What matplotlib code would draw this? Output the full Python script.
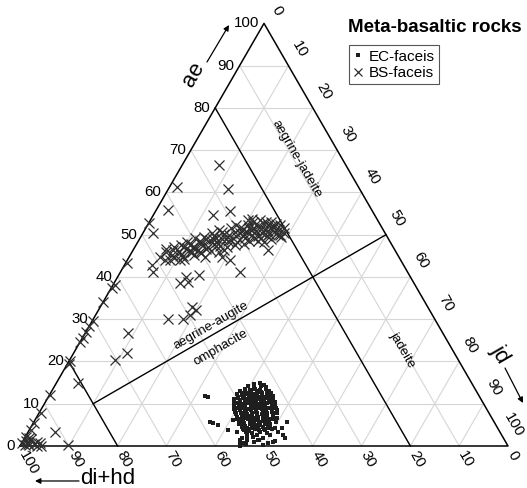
import numpy as np
import matplotlib.pyplot as plt

plt.rcParams['font.family'] = ['Liberation Sans', 'DejaVu Sans']

# (ae, jd) in percent, di+hd = 100 - ae - jd
ec_pts = [
    (14.6, 40.6), (14.9, 41.8), (14.4, 42.9),
    (14.1, 39.7), (13.8, 41.0), (14.2, 42.2), (13.9, 43.5),
    (13.5, 39.3), (13.2, 40.5), (13.6, 41.4), (13.3, 42.6), (13.5, 43.6), (13.1, 44.5),
    (12.9, 38.7), (12.6, 39.8), (12.8, 41.0), (13.0, 42.0), (12.7, 43.1), (12.9, 44.1), (12.5, 45.1),
    (12.3, 38.4), (12.0, 39.5), (12.2, 40.4), (12.4, 41.6), (12.1, 42.5), (12.3, 43.5), (12.0, 44.6), (12.2, 45.4),
    (11.7, 38.8), (11.5, 40.1), (11.8, 41.0), (11.4, 42.2), (11.6, 43.1), (11.7, 44.0), (11.5, 45.1), (11.8, 46.0),
    (11.1, 38.3), (10.9, 39.6), (11.2, 40.5), (10.8, 41.6), (11.0, 42.5), (11.1, 43.7), (10.9, 44.6), (11.2, 45.5), (10.8, 46.5),
    (10.5, 38.6), (10.2, 39.9), (10.6, 40.8), (10.3, 41.9), (10.4, 43.1), (10.6, 44.0), (10.2, 45.1), (10.5, 46.0), (10.3, 47.1),
    (9.9, 38.8), (9.6, 40.1), (10.0, 41.2), (9.7, 42.4), (9.8, 43.3), (9.9, 44.5), (9.6, 45.4), (10.0, 46.6), (9.7, 47.4),
    (9.3, 39.3), (9.0, 40.6), (9.4, 41.5), (9.1, 42.8), (9.2, 43.7), (9.4, 44.9), (9.0, 45.8), (9.3, 47.0), (9.1, 47.9),
    (8.7, 39.6), (8.4, 40.9), (8.8, 41.8), (8.5, 43.1), (8.6, 44.0), (8.8, 45.2), (8.4, 46.3), (8.7, 47.2), (8.5, 48.4),
    (8.1, 40.0), (7.8, 41.3), (8.2, 42.3), (7.9, 43.5), (8.0, 44.4), (8.2, 45.6), (7.8, 46.5), (8.1, 47.6), (7.9, 48.7),
    (7.5, 40.5), (7.2, 41.8), (7.6, 42.7), (7.3, 43.9), (7.4, 44.9), (7.6, 45.8), (7.2, 47.0), (7.5, 48.0),
    (6.9, 41.0), (6.6, 42.3), (7.0, 43.2), (6.7, 44.3), (6.8, 45.3), (7.0, 46.2), (6.6, 47.4), (6.9, 48.4), (6.7, 49.4),
    (6.3, 41.6), (6.0, 42.7), (6.4, 43.6), (6.1, 44.8), (6.2, 45.7), (6.4, 46.8), (6.0, 47.7), (6.3, 48.9),
    (5.7, 42.0), (5.4, 43.3), (5.8, 44.2), (5.5, 45.2), (5.6, 46.3), (5.8, 47.2), (5.4, 48.4), (5.7, 49.6),
    (5.1, 42.5), (4.8, 43.7), (5.2, 44.6), (4.9, 45.8), (5.0, 46.7), (5.2, 47.8), (4.8, 48.9),
    (4.5, 43.2), (4.2, 44.4), (4.6, 45.3), (4.3, 46.4), (4.4, 47.5), (4.6, 48.5), (4.2, 50.2),
    (3.9, 43.9), (3.6, 45.1), (4.0, 46.1), (3.7, 47.2), (3.8, 48.3), (4.0, 49.6),
    (3.3, 44.7), (3.0, 46.1), (3.4, 47.4), (3.1, 49.0), (3.2, 51.3),
    (12.5, 39.2), (12.6, 40.2), (12.4, 41.3), (12.5, 42.3), (12.6, 43.3), (12.4, 44.4),
    (11.3, 39.0), (11.4, 40.0), (11.2, 41.0), (11.3, 42.0), (11.4, 43.1), (11.2, 44.2), (11.3, 45.0), (11.4, 46.0),
    (10.1, 39.3), (10.0, 40.4), (10.2, 41.4), (10.1, 42.5), (10.0, 43.6), (10.2, 44.6), (10.1, 45.6), (10.0, 46.6),
    (8.9, 39.9), (9.0, 41.0), (8.8, 42.1), (8.9, 43.2), (9.0, 44.3), (8.8, 45.3), (8.9, 46.4), (9.0, 47.5),
    (7.7, 40.5), (7.8, 41.5), (7.6, 42.6), (7.7, 43.6), (7.8, 44.7), (7.6, 45.8), (7.7, 46.8), (7.8, 47.9),
    (6.5, 41.2), (6.4, 42.2), (6.6, 43.3), (6.5, 44.3), (6.4, 45.4), (6.6, 46.4), (6.5, 47.5), (6.4, 48.5),
    (5.3, 42.3), (5.2, 43.4), (5.4, 44.4), (5.3, 45.4), (5.2, 46.4), (5.4, 47.5), (5.3, 48.5),
    (4.1, 43.6), (4.0, 44.7), (4.2, 45.7), (4.1, 46.8), (4.0, 47.9), (4.2, 49.0),
    (2.6, 45.2), (2.7, 47.3), (2.5, 49.9), (2.6, 52.6), (2.0, 44.4), (2.1, 46.6), (1.9, 48.8), (2.0, 53.4),
    (1.4, 45.8), (1.5, 48.3), (1.3, 51.7), (0.8, 44.7), (0.9, 47.4), (0.7, 50.4), (0.4, 46.1), (0.3, 49.7),
    (11.8, 32.0), (11.6, 32.7), (5.7, 36.1), (5.4, 36.8), (5.0, 38.1), (3.8, 40.7), (6.1, 40.5),
    (3.3, 42.8), (1.4, 44.4), (0.7, 45.3), (1.4, 48.1), (0.9, 51.3), (5.7, 51.9), (4.3, 51.6),
    (3.3, 51.2), (1.9, 45.5), (0.1, 45.0),
]

bs_pts = [
    # along the ae - di+hd side
    (61.2, 1.6), (55.8, 2.5), (52.7, 0.0), (50.4, 2.0), (43.4, 0.3), (38.2, 0.4), (37.3, 0.2),
    (34.0, 0.1), (29.5, 0.2), (28.3, 0.0), (27.0, 0.1), (25.6, 0.2), (24.6, 0.0), (20.1, 0.1),
    (19.4, 0.3), (12.0, 0.2), (7.9, 0.4), (5.4, 0.1), (3.9, 0.3), (2.1, 0.2),
    (1.3, 0.5), (0.6, 0.2), (0.9, 1.2), (0.2, 1.8), (1.6, 1.5), (0.5, 2.6), (0.1, 3.4),
    (1.0, 2.9), (0.3, 0.8), (0.0, 4.3), (0.7, 3.8), (1.9, 0.9), (0.4, 1.4),
    # scattered
    (3.3, 5.5), (0.2, 9.8), (14.9, 4.4), (20.3, 9.3), (22.0, 11.0), (26.7, 8.8), (30.0, 15.4),
    (30.0, 18.4), (31.0, 19.3), (32.9, 18.8), (32.2, 19.9), (38.5, 13.5), (38.8, 15.0),
    (40.4, 16.5), (41.1, 6.7), (41.1, 24.6), (42.8, 5.6), (44.0, 10.8), (40.0, 14.0),
    (44.7, 19.1), (47.5, 20.3), (46.3, 27.7), (50.4, 29.0), (44.0, 21.0),
    (66.4, 7.6), (60.8, 12.2), (55.6, 15.3), (54.6, 12.2), (53.5, 20.0),
    # main band
    (44.8, 6.2), (46.0, 7.0), (43.9, 7.8), (45.3, 8.4), (47.2, 8.0), (44.5, 9.3), (46.1, 9.6),
    (47.5, 9.2), (45.2, 10.4), (46.8, 10.8), (48.3, 10.1), (44.3, 11.5), (47.0, 11.9), (49.1, 11.3),
    (45.8, 12.4), (48.0, 12.8), (46.4, 13.3), (49.5, 13.0), (47.6, 13.8), (45.6, 14.2), (48.7, 14.5),
    (50.4, 14.1), (47.0, 15.0), (49.3, 15.6), (46.2, 16.0), (48.2, 16.3), (51.2, 15.2), (44.8, 15.5),
    (50.1, 16.8), (47.4, 17.2), (49.0, 17.7), (51.5, 17.4), (45.9, 17.9), (48.4, 18.4), (50.6, 18.8),
    (47.0, 19.0), (52.3, 18.2), (49.6, 19.5), (51.3, 20.0), (48.2, 20.4), (50.2, 20.9), (52.4, 20.6),
    (49.1, 21.5), (51.0, 21.8), (53.0, 21.3), (47.7, 22.0), (50.0, 22.5), (52.0, 22.8), (49.2, 23.3),
    (51.4, 23.6), (53.1, 23.9), (50.4, 24.3), (48.4, 24.6), (52.2, 24.8), (50.9, 25.3), (49.6, 25.8),
    (51.9, 26.0), (50.6, 26.7), (48.9, 27.0), (52.3, 27.1), (50.0, 27.8), (51.5, 28.4), (49.4, 28.8),
    (46.9, 12.0), (48.6, 12.5), (47.9, 13.2), (46.5, 14.8), (49.8, 14.9), (47.8, 15.8), (45.3, 13.0),
    (48.9, 16.9), (51.7, 22.2), (50.6, 21.2), (52.7, 23.4), (49.8, 23.8), (51.2, 24.7), (53.4, 22.5),
    (50.3, 20.0), (52.0, 25.6),
    (46.3, 8.3), (45.0, 11.0), (47.8, 11.2), (46.0, 13.8), (49.0, 13.7), (47.3, 16.5), (50.6, 16.0),
    (48.8, 18.9), (46.4, 18.6), (51.6, 19.2), (49.6, 20.8), (48.6, 22.6), (51.7, 21.0), (50.9, 23.0),
    (53.6, 20.7), (49.3, 24.8), (52.6, 26.2), (50.2, 26.0), (48.3, 25.8), (51.0, 27.5), (47.0, 10.2),
    (45.9, 11.8), (48.9, 15.0), (50.0, 17.9), (52.9, 24.9), (49.9, 28.3), (44.0, 8.8), (46.7, 6.5),
]

ticks = [0, 10, 20, 30, 40, 50, 60, 70, 80, 90, 100]

H = np.sqrt(3) / 2


def tern(ae, jd):
    ae = np.asarray(ae, dtype=float) / 100.0
    jd = np.asarray(jd, dtype=float) / 100.0
    return jd + ae / 2, ae * H


fig = plt.figure(figsize=(5.27, 4.88), dpi=100)
ax = fig.add_axes([0, 0, 1, 1])
ax.set_xlim(-20 / 488, 507 / 488)
ax.set_ylim(-42 / 488, 446 / 488)
ax.axis('off')

# grid
gc = '#d6d6d6'
for k in ticks[1:-1]:
    for p, q in [((k, 0), (k, 100 - k)), ((0, k), (100 - k, k)), ((100 - k, 0), (0, 100 - k))]:
        x, y = tern([p[0], q[0]], [p[1], q[1]])
        ax.plot(x, y, color=gc, lw=0.8, zorder=1)

# field boundaries
for p, q in [((80, 0), (0, 80)), ((20, 0), (0, 20)), ((10, 10), (50, 50))]:
    x, y = tern([p[0], q[0]], [p[1], q[1]])
    ax.plot(x, y, color='black', lw=1.0, zorder=2)

x, y = tern([0, 0, 100, 0], [0, 100, 0, 0])
ax.plot(x, y, color='black', lw=1.1, zorder=2)

# tick labels
for t in ticks:
    ax.annotate(str(t), xy=tern(t, 0), xytext=(-3.6, 0), textcoords='offset points',
                ha='right', va='center', fontsize=10.8)
    off = (10.8, 6.5) if t < 100 else (8.6, 7.5)
    ax.annotate(str(t), xy=tern(100 - t, t), xytext=off, textcoords='offset points',
                ha='right', va='center', fontsize=10.8, rotation=-60, rotation_mode='anchor')
    ax.annotate(str(t), xy=tern(0, 100 - t), xytext=(1.8, -4.3), textcoords='offset points',
                ha='left', va='center', fontsize=10.8, rotation=-60, rotation_mode='anchor')

# field names
ax.text(*tern(67.8, 22.7), 'aegrine-jadeite', rotation=-60, rotation_mode='anchor',
        ha='center', va='center', fontsize=9.5)
ax.text(*tern(28.6, 24.8), 'aegrine-augite', rotation=30, rotation_mode='anchor',
        ha='center', va='center', fontsize=9.5)
ax.text(*tern(23.4, 29.5), 'omphacite', rotation=30, rotation_mode='anchor',
        ha='center', va='center', fontsize=9.5)
ax.text(*tern(22.7, 66.9), 'jadeite', rotation=-60, rotation_mode='anchor',
        ha='center', va='center', fontsize=9.5)

# axis names with arrows
arr = dict(arrowstyle='-|>', lw=0.9, color='black', mutation_scale=8, shrinkA=0, shrinkB=0)
ax.text(0.3545, 0.7623, 'ae', rotation=60, rotation_mode='anchor', ha='center', va='center', fontsize=16)
ax.annotate('', xy=(0.4283, 0.8627), xytext=(0.3832, 0.7869), arrowprops=arr)
ax.text(0.9836, 0.1885, 'jd', rotation=-60, rotation_mode='anchor', ha='center', va='center', fontsize=16)
ax.annotate('', xy=(1.0307, 0.0881), xytext=(0.9939, 0.1598), arrowprops=arr)
ax.text(0.180, -0.0656, 'di+hd', ha='center', va='center', fontsize=16)
ax.annotate('', xy=(0.0307, -0.0717), xytext=(0.1209, -0.0717), arrowprops=arr)

# data
ex, ey = tern([p[0] for p in ec_pts], [p[1] for p in ec_pts])
bx, by = tern([p[0] for p in bs_pts], [p[1] for p in bs_pts])
ax.plot(ex, ey, ls='none', marker='s', ms=3.5, mew=0, color='#1e1e1e', zorder=3, label='EC-faceis')
ax.plot(bx, by, ls='none', marker='x', ms=6.5, mew=0.9, color='#2e2e2e', zorder=3, label='BS-faceis')

fig.text(348 / 527, 1 - 27 / 488, 'Meta-basaltic rocks', ha='left', va='center',
         fontsize=13.5, fontweight='bold')
leg = ax.legend(loc='upper left', bbox_to_anchor=(349 / 527, 1 - 45 / 488), bbox_transform=fig.transFigure,
                fontsize=11, frameon=True, fancybox=False, framealpha=1, borderpad=0.3,
                handlelength=0.6, handletextpad=0.4, labelspacing=0.15, borderaxespad=0,
                markerscale=0.8)
leg.get_frame().set_edgecolor('#555555')
leg.get_frame().set_linewidth(0.8)

fig.savefig('out.png', dpi=100)
